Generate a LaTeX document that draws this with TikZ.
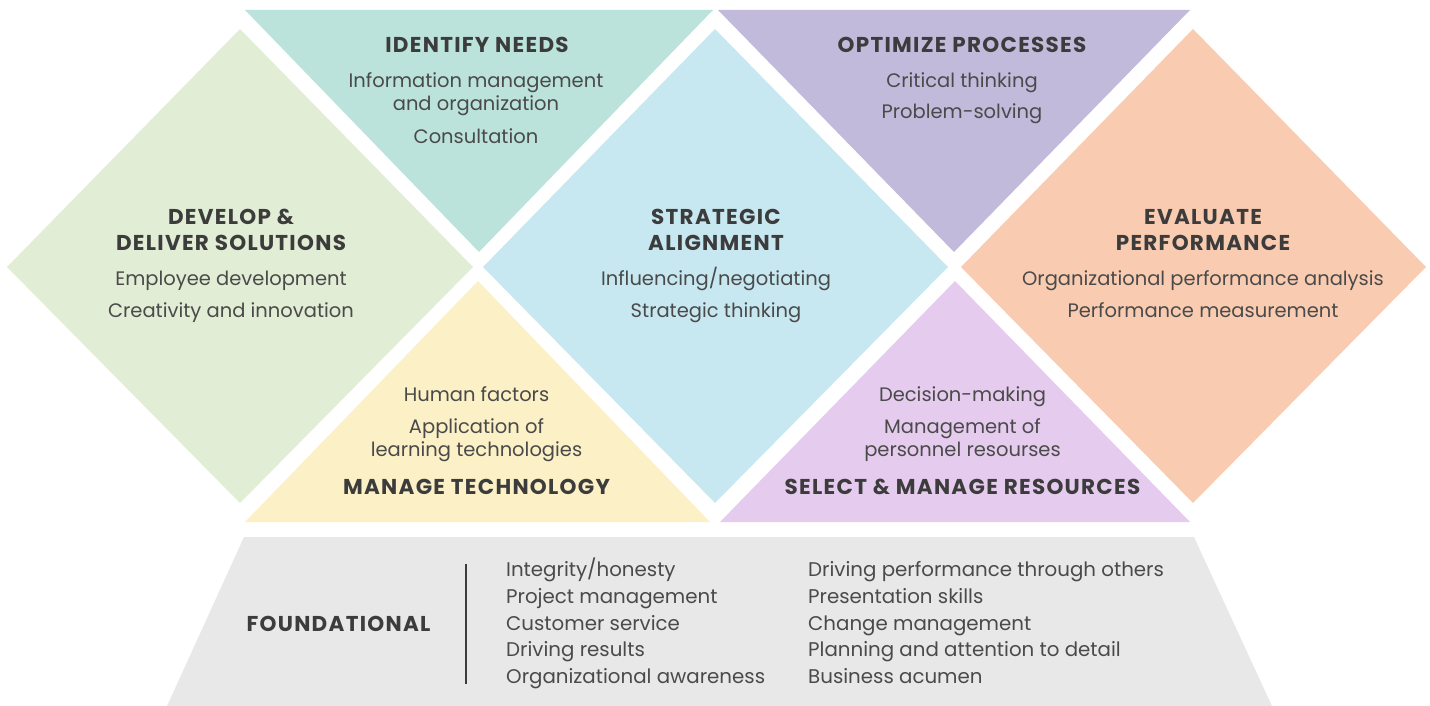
\documentclass[tikz,border=0pt]{standalone}
\usepackage{fontspec}
\setmainfont{Poppins}
\newfontfamily\ttlfont[LetterSpace=6]{Poppins}
\definecolor{cDev}{HTML}{E1EDD4}
\definecolor{cIdn}{HTML}{BBE3DB}
\definecolor{cStr}{HTML}{C7E8F1}
\definecolor{cOpt}{HTML}{C1BADB}
\definecolor{cEva}{HTML}{F9CCB1}
\definecolor{cMan}{HTML}{FBF0C6}
\definecolor{cSel}{HTML}{E5CBEE}
\definecolor{cFnd}{HTML}{E8E8E8}
\definecolor{cTitle}{HTML}{3C3C3C}
\definecolor{cBody}{HTML}{4A4A4A}
\begin{document}
\begin{tikzpicture}[x=1pt,y=-1pt,
  ttl/.style={font=\ttlfont\bfseries\fontsize{21.5}{25}\selectfont, text=cTitle, anchor=base, inner sep=0pt},
  bdy/.style={font=\fontsize{19.5}{23}\selectfont, text=cBody, anchor=base, inner sep=0pt},
  lst/.style={font=\fontsize{19.8}{23}\selectfont, text=cBody, anchor=base west, inner sep=0pt}]
\useasboundingbox (0,0) rectangle (1430,706);
% shapes
\fill[cDev] (240,29) -- (473,267) -- (240,503) -- (7,267) -- cycle;
\fill[cStr] (715,29) -- (948,267) -- (715,503) -- (483,267) -- cycle;
\fill[cEva] (1193,29) -- (1426,267) -- (1193,503) -- (961,267) -- cycle;
\fill[cIdn] (245,10) -- (713,10) -- (479,252) -- cycle;
\fill[cOpt] (718,10) -- (1190,10) -- (954,252) -- cycle;
\fill[cMan] (245,522) -- (710,522) -- (478,281) -- cycle;
\fill[cSel] (720,522) -- (1190,522) -- (955,281) -- cycle;
\fill[cFnd] (244,537) -- (1194,537) -- (1272,706) -- (167,706) -- cycle;
% identify needs
\node[ttl] (idT) at (477,52.3) {IDENTIFY NEEDS};
\node[bdy] (id1) at (476,87.3) {Information management};
\node[bdy] (id2) at (476,111) {and organization};
\node[bdy] (id3) at (476,143.3) {Consultation};
% optimize
\node[ttl] (opT) at (962,52.3) {OPTIMIZE PROCESSES};
\node[bdy] (op1) at (962,87.3) {Critical thinking};
\node[bdy] (op2) at (962,119) {Problem-solving};
% develop
\node[ttl] (dvT1) at (231,224.3) {DEVELOP \&};
\node[ttl] (dvT2) at (231,250) {DELIVER SOLUTIONS};
\node[bdy] (dv1) at (231,285.7) {Employee development};
\node[bdy] (dv2) at (231,317.3) {Creativity and innovation};
% strategic
\node[ttl] (stT1) at (716,224.3) {STRATEGIC};
\node[ttl] (stT2) at (716,250) {ALIGNMENT};
\node[bdy] (st1) at (716,285.7) {Influencing/negotiating};
\node[bdy] (st2) at (716,317.3) {Strategic thinking};
% evaluate
\node[ttl] (evT1) at (1203,224.3) {EVALUATE};
\node[ttl] (evT2) at (1203,250) {PERFORMANCE};
\node[bdy] (ev1) at (1203,285.7) {Organizational performance analysis};
\node[bdy] (ev2) at (1203,317.3) {Performance measurement};
% manage technology
\node[bdy] (mt1) at (476.5,401.7) {Human factors};
\node[bdy] (mt2) at (476.5,433.3) {Application of};
\node[bdy] (mt3) at (476.5,456.7) {learning technologies};
\node[ttl] (mtT) at (476.5,494) {MANAGE TECHNOLOGY};
% select resources
\node[bdy] (sr1) at (962.5,401.7) {Decision-making};
\node[bdy] (sr2) at (962.5,433.3) {Management of};
\node[bdy] (sr3) at (962.5,456.7) {personnel resourses};
\node[ttl] (srT) at (962.5,494) {SELECT \& MANAGE RESOURCES};
% foundational
\node[ttl] (fdT) at (338.5,631) {FOUNDATIONAL};
\coordinate (sepA) at (466,564);
\coordinate (sepB) at (466,684);
\draw[cTitle, line width=2.5pt] (sepA) -- (sepB);
\node[lst] (fa1) at (506,576.7) {Integrity/honesty};
\node[lst] (fa2) at (506,603.3) {Project management};
\node[lst] (fa3) at (506,630) {Customer service};
\node[lst] (fa4) at (506,656.7) {Driving results};
\node[lst] (fa5) at (506,683.3) {Organizational awareness};
\node[lst] (fb1) at (808,576.7) {Driving performance through others};
\node[lst] (fb2) at (808,603.3) {Presentation skills};
\node[lst] (fb3) at (808,630) {Change management};
\node[lst] (fb4) at (808,656.7) {Planning and attention to detail};
\node[lst] (fb5) at (808,683.3) {Business acumen};
\end{tikzpicture}
\end{document}
